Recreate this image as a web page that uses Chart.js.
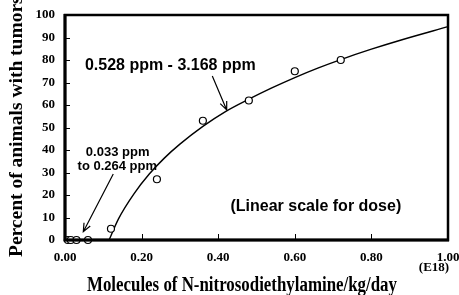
<!DOCTYPE html>
<html>
<head>
<meta charset="utf-8">
<script src="https://cdn.jsdelivr.net/npm/chart.js@4/dist/chart.umd.min.js"></script>
<style>
  html, body { margin: 0; padding: 0; background: #fff; }
  #wrap { width: 459px; height: 295px; }
</style>
</head>
<body>
<div id="wrap"><canvas id="c" width="459" height="295"></canvas></div>
<script>
// ---- Data ----
const doseX = [0.0075, 0.015, 0.03, 0.06, 0.12, 0.24, 0.36, 0.48, 0.60, 0.72];
const tumorPct = [0, 0, 0, 0, 5, 27, 53, 62, 75, 80];
const curveX = [0.115, 0.14, 0.18, 0.22, 0.26, 0.30, 0.36, 0.42, 0.48, 0.54, 0.60, 0.66, 0.72, 0.80, 0.88, 1.00];
const curveY = [0, 9.5, 20.5, 29.3, 36.5, 42.6, 50.5, 57.2, 62.6, 67.6, 72.2, 76.4, 80.2, 84.8, 89.0, 94.8];
const xTickValues = [0, 0.2, 0.4, 0.6, 0.8, 1.0];
const yTickValues = [0, 10, 20, 30, 40, 50, 60, 70, 80, 90, 100];
const xTitle = 'Molecules of N-nitrosodiethylamine/kg/day';
const yTitle = 'Percent of animals with tumors';
const xUnit = '(E18)';
const annoTexts = ['0.528 ppm - 3.168 ppm', '0.033 ppm', 'to 0.264 ppm', '(Linear scale for dose)'];
// annotation anchors in data space
const annoX = [0.052, 0.1375, 0.1366, 0.655];
const annoY = [77.3, 38.8, 32.6, 14.8];
const arrowFrom = [[0.3846, 72.9], [0.126, 29.3]];
const arrowTo = [[0.4222, 57.8], [0.0478, 3.7]];

const SERIF = '"Liberation Serif", "Times New Roman", serif';
const SANS = '"Liberation Sans", Arial, sans-serif';

function arrow(ctx, x1, y1, x2, y2) {
  const a = Math.atan2(y2 - y1, x2 - x1);
  const L = 9, w = 0.4;
  ctx.beginPath();
  ctx.moveTo(x1, y1); ctx.lineTo(x2, y2);
  ctx.moveTo(x2 - L * Math.cos(a - w), y2 - L * Math.sin(a - w));
  ctx.lineTo(x2, y2);
  ctx.lineTo(x2 - L * Math.cos(a + w), y2 - L * Math.sin(a + w));
  ctx.stroke();
}

const deco = {
  id: 'deco',
  afterDraw(chart) {
    const ctx = chart.ctx;
    const xs = chart.scales.x, ys = chart.scales.y;
    const ca = chart.chartArea;
    ctx.save();
    ctx.strokeStyle = '#000';
    ctx.fillStyle = '#000';
    // frame
    ctx.lineWidth = 2.5;
    ctx.strokeRect(ca.left, ca.top, ca.right - ca.left, ca.bottom - ca.top);
    ctx.lineWidth = 3;
    ctx.beginPath();
    ctx.moveTo(ca.left, ca.top - 1); ctx.lineTo(ca.left, ca.bottom); ctx.lineTo(ca.right + 1, ca.bottom);
    ctx.stroke();
    // inward ticks
    ctx.lineWidth = 1;
    ctx.beginPath();
    yTickValues.forEach(v => {
      if (v === 0 || v === 100) return;
      const y = Math.round(ys.getPixelForValue(v)) + 0.5;
      ctx.moveTo(ca.left, y); ctx.lineTo(ca.left + 5, y);
    });
    xTickValues.forEach(v => {
      if (v === 0 || v === 1) return;
      const x = Math.round(xs.getPixelForValue(v)) + 0.5;
      ctx.moveTo(x, ca.bottom); ctx.lineTo(x, ca.bottom - 6);
    });
    ctx.stroke();
    // arrows
    ctx.lineWidth = 1.2;
    for (let i = 0; i < arrowFrom.length; i++) {
      arrow(ctx, xs.getPixelForValue(arrowFrom[i][0]), ys.getPixelForValue(arrowFrom[i][1]),
                 xs.getPixelForValue(arrowTo[i][0]), ys.getPixelForValue(arrowTo[i][1]));
    }
    // annotations
    ctx.textBaseline = 'middle';
    ctx.font = 'bold 16px ' + SANS;
    ctx.textAlign = 'left';
    ctx.fillText(annoTexts[0], xs.getPixelForValue(annoX[0]), ys.getPixelForValue(annoY[0]));
    ctx.font = 'bold 13px ' + SANS;
    ctx.textAlign = 'center';
    ctx.fillText(annoTexts[1], xs.getPixelForValue(annoX[1]), ys.getPixelForValue(annoY[1]));
    ctx.fillText(annoTexts[2], xs.getPixelForValue(annoX[2]), ys.getPixelForValue(annoY[2]));
    ctx.font = 'bold 16px ' + SANS;
    ctx.fillText(annoTexts[3], xs.getPixelForValue(annoX[3]), ys.getPixelForValue(annoY[3]));
    // x title (slightly condensed)
    ctx.font = 'bold 20px ' + SERIF;
    ctx.textBaseline = 'alphabetic';
    const w = ctx.measureText(xTitle).width;
    const sx = 310 / w;
    ctx.save();
    ctx.translate(242, 291);
    ctx.scale(sx, 1);
    ctx.textAlign = 'center';
    ctx.fillText(xTitle, 0, 0);
    ctx.restore();
    // unit
    ctx.font = 'bold 13px ' + SERIF;
    ctx.textAlign = 'center';
    ctx.textBaseline = 'middle';
    ctx.fillText(xUnit, 434, 268);
    // y title
    ctx.save();
    ctx.translate(22, 257);
    ctx.rotate(-Math.PI / 2);
    ctx.font = 'bold 19.5px ' + SERIF;
    ctx.textAlign = 'left';
    ctx.textBaseline = 'alphabetic';
    ctx.fillText(yTitle, 0, 0);
    ctx.restore();
    ctx.restore();
  }
};

new Chart(document.getElementById('c'), {
  type: 'scatter',
  data: {
    datasets: [
      {
        label: 'fit',
        data: curveX.map((x, i) => ({ x, y: curveY[i] })),
        showLine: true,
        borderColor: '#000',
        borderWidth: 1.4,
        pointRadius: 0,
        cubicInterpolationMode: 'monotone',
        fill: false,
        order: 2
      },
      {
        label: 'observed',
        data: doseX.map((x, i) => ({ x, y: tumorPct[i] })),
        showLine: false,
        pointStyle: 'circle',
        pointRadius: 3.5,
        pointBackgroundColor: '#fff',
        pointBorderColor: '#000',
        pointBorderWidth: 1.2,
        order: 1
      }
    ]
  },
  options: {
    responsive: false,
    animation: false,
    devicePixelRatio: 1,
    clip: false,
    layout: { padding: { left: 0, top: 15, right: 11, bottom: 0 } },
    plugins: { legend: { display: false }, tooltip: { enabled: false }, title: { display: false } },
    scales: {
      x: {
        type: 'linear', min: 0, max: 1,
        afterBuildTicks: s => { s.ticks = xTickValues.map(v => ({ value: v })); },
        afterFit: s => { s.height = 55; s.paddingLeft = 0; s.paddingRight = 0; },
        grid: { display: false, drawTicks: false },
        border: { display: false },
        ticks: {
          padding: 10, color: '#000', maxRotation: 0, autoSkip: false,
          font: { family: SERIF, size: 13, weight: 'bold' },
          callback: v => Number(v).toFixed(2)
        }
      },
      y: {
        type: 'linear', min: 0, max: 100,
        afterBuildTicks: s => { s.ticks = yTickValues.map(v => ({ value: v })); },
        afterFit: s => { s.width = 65; s.paddingTop = 0; s.paddingBottom = 0; },
        grid: { display: false, drawTicks: false },
        border: { display: false },
        ticks: {
          padding: 10, color: '#000', autoSkip: false,
          font: { family: SERIF, size: 13, weight: 'bold' },
          callback: v => String(v)
        }
      }
    }
  },
  plugins: [deco]
});
</script>
</body>
</html>
